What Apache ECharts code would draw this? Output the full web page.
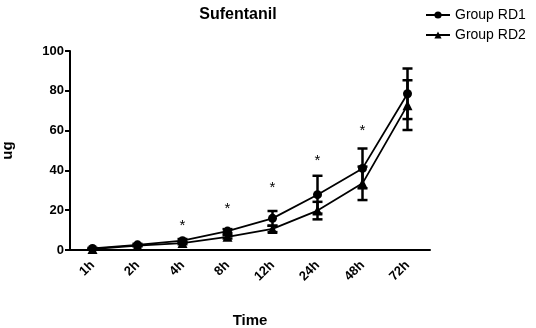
<!DOCTYPE html>
<html>
<head>
<meta charset="utf-8">
<script src="https://cdn.jsdelivr.net/npm/echarts@6/dist/echarts.min.js"></script>
<style>
  html, body { margin: 0; padding: 0; background: #fff; }
  #chart { width: 536px; height: 328px; }
</style>
</head>
<body>
<div id="chart"></div>
<script>
// 时间点
var categories = ['1h', '2h', '4h', '8h', '12h', '24h', '48h', '72h'];
// Group RD1 均值和误差
var rd1Mean = [0.8, 2.6, 4.7, 9.5, 15.9, 27.8, 41, 78.5];
var rd1Err = [0.3, 0.5, 0.8, 1.0, 3.7, 9.5, 10, 12.7];
// Group RD2 均值和误差
var rd2Mean = [0.5, 2.2, 3.5, 6.6, 10.6, 19.8, 33.5, 72.8];
var rd2Err = [0.2, 0.4, 0.6, 0.8, 1.6, 4.4, 8.4, 12.5];
// 显著性星号所在高度
var sigY = [null, null, 12, 20.5, 31, 45, 59.8, null];
var yTicks = [0, 20, 40, 60, 80, 100];

var font = 'Liberation Sans, Arial, sans-serif';

function errData(mean, err) {
    return mean.map(function (m, i) { return [i, m - err[i], m + err[i]]; });
}

function errRender(params, api) {
    var lo = api.coord([api.value(0), api.value(1)]);
    var hi = api.coord([api.value(0), api.value(2)]);
    var w = 5;
    var style = { stroke: '#000', lineWidth: 2.5 };
    return {
        type: 'group',
        children: [
            { type: 'line', shape: { x1: lo[0], y1: lo[1], x2: hi[0], y2: hi[1] }, style: style },
            { type: 'line', shape: { x1: lo[0] - w, y1: lo[1], x2: lo[0] + w, y2: lo[1] }, style: style },
            { type: 'line', shape: { x1: hi[0] - w, y1: hi[1], x2: hi[0] + w, y2: hi[1] }, style: style }
        ]
    };
}

var sigData = [];
sigY.forEach(function (v, i) { if (v !== null) sigData.push([i, v]); });

var chart = echarts.init(document.getElementById('chart'));
chart.setOption({
    animation: false,
    textStyle: { fontFamily: font },
    title: {
        text: 'Sufentanil',
        left: 233,
        top: 2,
        textAlign: 'center',
        textStyle: { fontSize: 16, fontWeight: 'bold', color: '#000', fontFamily: font }
    },
    legend: {
        data: ['Group RD1', 'Group RD2'],
        orient: 'vertical',
        left: 420,
        top: 3,
        itemWidth: 24,
        itemHeight: 9,
        itemGap: 6,
        selectedMode: false,
        textStyle: { fontSize: 14, color: '#000', fontFamily: font }
    },
    grid: { left: 70, top: 51, width: 360, height: 199, containLabel: false, outerBoundsMode: 'none' },
    xAxis: {
        type: 'category',
        data: categories,
        boundaryGap: true,
        name: 'Time',
        nameLocation: 'middle',
        nameGap: 63,
        nameTextStyle: { fontSize: 15, fontWeight: 'bold', color: '#000' },
        axisLine: { lineStyle: { color: '#000', width: 2 } },
        axisTick: { alignWithLabel: true, length: 5, lineStyle: { color: '#000', width: 2 } },
        axisLabel: { rotate: 45, fontSize: 13, fontWeight: 'bold', color: '#000', margin: 13 }
    },
    yAxis: {
        type: 'value',
        min: 0,
        max: 100,
        interval: 20,
        name: 'ug',
        nameLocation: 'middle',
        nameGap: 55,
        nameTextStyle: { fontSize: 15, fontWeight: 'bold', color: '#000' },
        axisLine: { show: true, lineStyle: { color: '#000', width: 2 } },
        axisTick: { show: true, length: 5, lineStyle: { color: '#000', width: 2 } },
        axisLabel: {
            fontSize: 13, fontWeight: 'bold', color: '#000', margin: 6,
            formatter: function (v) { return yTicks.indexOf(v) > -1 ? String(v) : ''; }
        },
        splitLine: { show: false }
    },
    series: [
        {
            name: 'Group RD1',
            type: 'line',
            data: rd1Mean,
            symbol: 'circle',
            symbolSize: 9,
            itemStyle: { color: '#000' },
            lineStyle: { color: '#000', width: 1.8 },
            z: 5
        },
        {
            name: 'Group RD2',
            type: 'line',
            data: rd2Mean,
            symbol: 'triangle',
            symbolSize: 10,
            itemStyle: { color: '#000' },
            lineStyle: { color: '#000', width: 1.8 },
            z: 5
        },
        {
            name: 'RD1 err',
            type: 'custom',
            data: errData(rd1Mean, rd1Err),
            renderItem: errRender,
            encode: { x: 0, y: [1, 2] },
            z: 4
        },
        {
            name: 'RD2 err',
            type: 'custom',
            data: errData(rd2Mean, rd2Err),
            renderItem: errRender,
            encode: { x: 0, y: [1, 2] },
            z: 4
        },
        {
            name: 'sig',
            type: 'custom',
            data: sigData,
            encode: { x: 0, y: 1 },
            renderItem: function (params, api) {
                var p = api.coord([api.value(0), api.value(1)]);
                return {
                    type: 'text',
                    x: p[0],
                    y: p[1],
                    style: {
                        text: '*', fill: '#000', fontSize: 15, fontFamily: font,
                        align: 'center', verticalAlign: 'middle'
                    }
                };
            }
        }
    ]
});
</script>
</body>
</html>
